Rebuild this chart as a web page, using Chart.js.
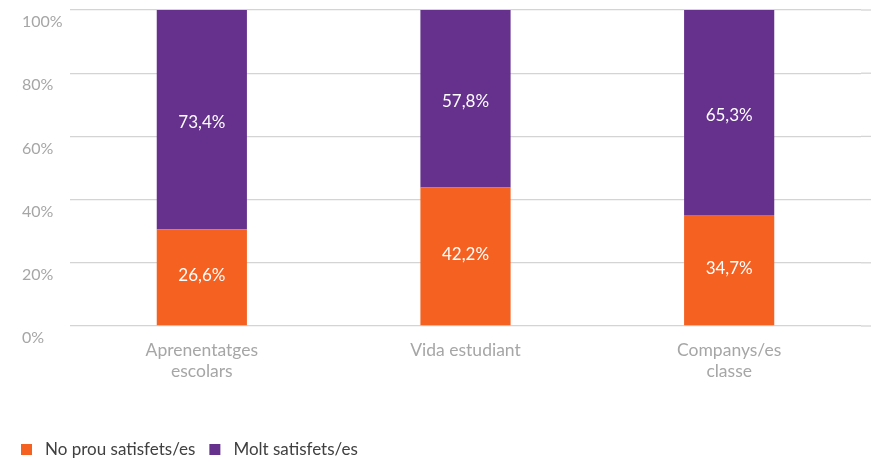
<!DOCTYPE html>
<html>
<head>
<meta charset="utf-8">
<script src="https://cdn.jsdelivr.net/npm/chart.js@4/dist/chart.umd.min.js"></script>
<style>
  html, body { margin: 0; padding: 0; background: #fff; }
  #wrap { width: 872px; height: 459px; }
</style>
</head>
<body>
<div id="wrap"><canvas id="chart" width="872" height="459"></canvas></div>
<script>
const categories = [['Aprenentatges', 'escolars'], ['Vida estudiant'], ['Companys/es', 'classe']];
// orange bar heights as drawn in the picture (they don't match the printed labels)
const notSatisfied = [30.6, 43.8, 35.1];
const notSatisfiedLabels = [26.6, 42.2, 34.7];
const verySatisfied = [73.4, 57.8, 65.3];
const seriesNames = ['No prou satisfets/es', 'Molt satisfets/es'];
const yTicks = [0, 20, 40, 60, 80, 100];

const FONT = 'Lato, "Open Sans", sans-serif';
const ORANGE = '#F46121';
const PURPLE = '#65318C';
const GRID = '#d4d4d4';

const barLabels = {
  id: 'barLabels',
  afterDatasetsDraw(chart) {
    const c = chart.ctx;
    const area = chart.chartArea;
    c.save();
    c.fillStyle = '#fff';
    c.font = '17px ' + FONT;
    c.textAlign = 'center';
    c.textBaseline = 'middle';
    chart.data.datasets.forEach((ds, i) => {
      chart.getDatasetMeta(i).data.forEach((bar, j) => {
        const top = Math.max(bar.y, area.top);
        const y = (top + bar.base) / 2 + ds.labelShift;
        c.fillText(ds.shown[j].toFixed(1).replace('.', ',') + '%', bar.x, y);
      });
    });
    c.restore();
  }
};

// gridlines in the original run a little past the last category
const gridTail = {
  id: 'gridTail',
  beforeDatasetsDraw(chart) {
    const c = chart.ctx;
    const y = chart.scales.y;
    c.save();
    c.strokeStyle = GRID;
    c.lineWidth = 1.3;
    y.ticks.forEach(t => {
      const py = y.getPixelForValue(t.value);
      c.beginPath();
      c.moveTo(chart.chartArea.right, py);
      c.lineTo(chart.width - 1, py);
      c.stroke();
    });
    c.restore();
  }
};

// legend drawn by hand so the box/text spacing matches the original
const bottomLegend = {
  id: 'bottomLegend',
  afterDraw(chart) {
    const c = chart.ctx;
    const cy = chart.height - 9.5;
    let x = 21;
    c.save();
    c.font = '17px ' + FONT;
    c.textBaseline = 'middle';
    c.textAlign = 'left';
    chart.data.datasets.forEach(ds => {
      c.fillStyle = ds.backgroundColor;
      c.fillRect(x, cy - 5.5, 11, 11);
      c.fillStyle = '#404040';
      c.fillText(ds.label, x + 24, cy);
      x += 24 + c.measureText(ds.label).width + 14;
    });
    c.restore();
  }
};

new Chart(document.getElementById('chart'), {
  type: 'bar',
  data: {
    labels: categories,
    datasets: [
      { label: seriesNames[0], data: notSatisfied, shown: notSatisfiedLabels, labelShift: -2, backgroundColor: ORANGE },
      { label: seriesNames[1], data: verySatisfied, shown: verySatisfied, labelShift: 3, backgroundColor: PURPLE }
    ]
  },
  options: {
    responsive: false,
    animation: false,
    layout: { padding: { top: 10, left: 22, right: 11, bottom: 30 } },
    datasets: { bar: { categoryPercentage: 1, barPercentage: 0.342 } },
    plugins: {
      tooltip: { enabled: false },
      legend: { display: false }
    },
    scales: {
      x: {
        stacked: true,
        grid: { display: false },
        border: { display: false },
        ticks: {
          color: '#a6a6a6',
          padding: 5,
          font: { family: FONT, size: 17.5, lineHeight: 1.25 }
        },
        afterFit(scale) { scale.height = 103; }
      },
      y: {
        stacked: true,
        min: 0,
        max: 100,
        afterBuildTicks(scale) { scale.ticks = yTicks.map(v => ({ value: v })); },
        grid: { color: GRID, lineWidth: 1.3, drawTicks: false },
        border: { display: false },
        ticks: {
          color: '#a6a6a6',
          crossAlign: 'far',
          labelOffset: 12,
          font: { family: FONT, size: 16 },
          callback: v => v + '%'
        },
        afterFit(scale) {
          scale.width = 48;
          scale.paddingTop = 0;
          scale.paddingBottom = 0;
        }
      }
    }
  },
  plugins: [barLabels, gridTail, bottomLegend]
});
</script>
</body>
</html>
